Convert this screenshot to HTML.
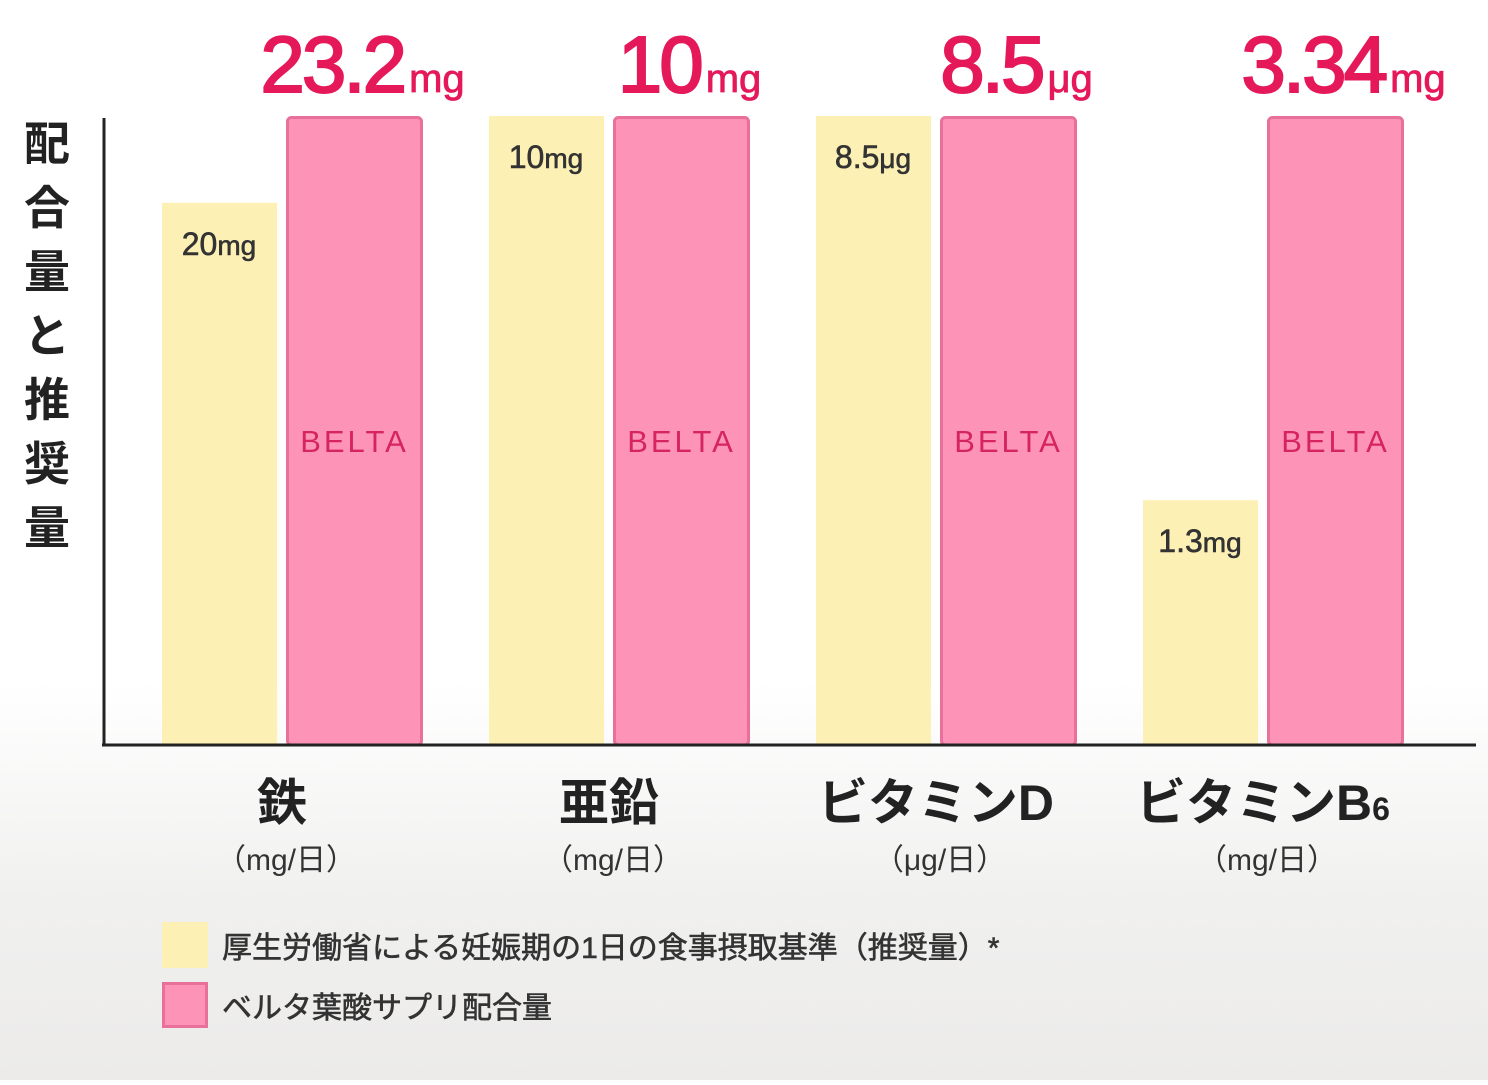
<!DOCTYPE html>
<html><head><meta charset="utf-8">
<style>
html,body{margin:0;padding:0;}
body{width:1488px;height:1080px;overflow:hidden;background:linear-gradient(#ffffff 0px,#ffffff 680px,#f0f0ef 900px,#ecebea 1080px);font-family:"Liberation Sans","Noto Sans CJK JP",sans-serif;}
svg text{font-family:"Liberation Sans","Noto Sans CJK JP",sans-serif;}
</style></head>
<body>
<svg id="chart" width="1488" height="1080" viewBox="0 0 1488 1080" xmlns="http://www.w3.org/2000/svg">
  <g font-size="46" font-weight="bold" fill="#222" text-anchor="middle">
    <text x="47" y="160">配</text>
    <text x="47" y="224">合</text>
    <text x="47" y="288">量</text>
    <text x="47" y="352">と</text>
    <text x="47" y="416">推</text>
    <text x="47" y="480">奨</text>
    <text x="47" y="544">量</text>
  </g>
  <g id="bars"></g>
  <line x1="104" y1="118" x2="104" y2="746" stroke="#222" stroke-width="3"/>
  <line x1="102" y1="745" x2="1476" y2="745" stroke="#222" stroke-width="3"/>
  <g id="cats"></g>
  <g>
    <g>
      <rect x="162" y="922" width="46" height="46" fill="#fdf0b5"/>
      <text x="222" y="958" font-size="30" fill="#333" stroke="#333" stroke-width="0.6">厚生労働省による妊娠期の1日の食事摂取基準（推奨量）*</text>
    </g>
    <g>
      <rect x="163.5" y="983.5" width="43" height="43" fill="#fd94b8" stroke="#e8709a" stroke-width="3"/>
      <text x="222" y="1018" font-size="30" fill="#333" stroke="#333" stroke-width="0.6">ベルタ葉酸サプリ配合量</text>
    </g>
  </g>
</svg>
<script>
const categories = ["鉄", "亜鉛", "ビタミンD", "ビタミンB6"];
const units = ["mg", "mg", "μg", "mg"];
const recommended = [20, 10, 8.5, 1.3];
const belta = [23.2, 10, 8.5, 3.34];
const recommendedLabels = ["20", "10", "8.5", "1.3"];
const beltaLabels = ["23.2", "10", "8.5", "3.34"];

const NS = "http://www.w3.org/2000/svg";
const baseY = 745, fullH = 629;
const groupX = i => 162 + i * 327;
const yScale = (v, max) => v / max * fullH;
function mk(tag, attrs, parent) {
  const e = document.createElementNS(NS, tag);
  for (const k in attrs) e.setAttribute(k, attrs[k]);
  parent.appendChild(e);
  return e;
}
const bars = document.getElementById("bars");
const cats = document.getElementById("cats");
categories.forEach((c, i) => {
  const gx = groupX(i);
  const max = Math.max(recommended[i], belta[i]);
  const hy = yScale(recommended[i], max);
  const hb = yScale(belta[i], max);
  const y1 = mk("rect", {x: gx, y: baseY - hy, width: 115, height: hy, fill: "#fdf0b5"}, bars);
  
  
  const t1 = mk("text", {x: gx + 57, y: baseY - hy + 52, "font-size": 32, fill: "#333", stroke: "#333", "stroke-width": 0.6, "text-anchor": "middle"}, bars);
  
  
  t1.textContent = recommendedLabels[i];
  const u1 = mk("tspan", {"font-size": 28}, t1);
  u1.textContent = units[i];
  const bx = gx + 125.5;
  const p = mk("rect", {x: bx, y: baseY - hb + 1.5, width: 134, height: hb - 1.5, rx: 4, fill: "#fd94b8", stroke: "#e8709a", "stroke-width": 3}, bars);
  
  
  const bt = mk("text", {x: bx + 67, y: 452, "font-size": 31, fill: "#d6245e", "text-anchor": "middle", "letter-spacing": 3}, bars);
  
  
  bt.textContent = "BELTA";
  const big = mk("text", {x: bx + 75, y: baseY - hb - 24, "font-size": 80, fill: "#e5195a", stroke: "#e5195a", "stroke-width": 2, "text-anchor": "middle", "letter-spacing": -3}, bars);
  
  
  big.textContent = beltaLabels[i];
  const bu = mk("tspan", {"font-size": 40, "letter-spacing": 0, "stroke-width": 0.8, dx: 5}, big);
  bu.textContent = units[i];
  const cx = gx + 120;
  const ct = mk("text", {x: cx, y: 820, "font-size": 50, "font-weight": "bold", fill: "#222", "text-anchor": "middle"}, cats);
  
  
  if (c.endsWith("B6")) {
    ct.textContent = c.slice(0, -1);
    const s = mk("tspan", {"font-size": 32}, ct);
    s.textContent = "6";
  } else ct.textContent = c;
  const ut = mk("text", {x: cx + 4, y: 870, "font-size": 30, fill: "#333", "text-anchor": "middle"}, cats);
  
  
  ut.textContent = "（" + units[i] + "/日）";
});
</script>
</body></html>
